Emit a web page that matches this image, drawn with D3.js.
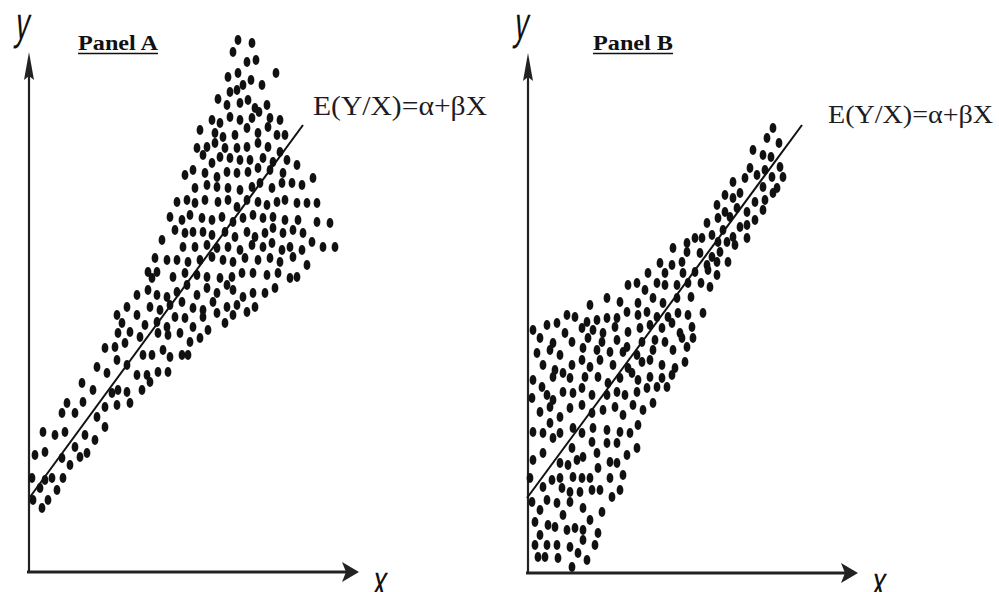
<!DOCTYPE html>
<html>
<head>
<meta charset="utf-8">
<title>Panels</title>
<script src="https://d3js.org/d3.v7.min.js"></script>
<style>
  body { margin: 0; background: #fff; }
  svg { display: block; }
  .dot { fill: #111; }
  .axis { stroke: #222; }
  .eq { font-family: "Liberation Serif", serif; fill: #1c1c24; }
  .title { font-family: "Liberation Serif", serif; font-weight: bold; fill: #111; }
  .var { font-family: "Liberation Sans Narrow", "Liberation Sans", sans-serif; fill: #111; }
</style>
</head>
<body>
<script>
// units: x = distance from y axis, y = height above x axis
const titles = ["Panel A", "Panel B"];
const equation = "E(Y/X)=\u03b1+\u03b2X";
const axisNames = ["y", "x"];

const lineA = [[1, 75], [274, 447]];
const lineB = [[-1, 75], [274, 448]];

const dotsA = [
  [209,532],[223,529],[204,520],[218,510],[227,512],[247,499],[199,495],[209,499],[214,487],[222,492],
  [208,482],[201,480],[233,487],[189,473],[198,467],[211,469],[219,472],[226,464],[238,467],[183,452],
  [191,449],[201,455],[211,452],[223,454],[230,460],[241,454],[251,452],[171,442],[186,439],[194,435],
  [206,437],[218,444],[229,439],[239,445],[248,437],[256,437],[168,424],[178,425],[186,429],[196,424],
  [208,424],[218,425],[229,429],[239,425],[251,420],[174,417],[183,409],[191,415],[201,414],[211,412],
  [221,412],[234,414],[244,410],[258,412],[268,407],[156,397],[164,402],[176,399],[188,395],[198,400],
  [208,399],[219,400],[229,404],[241,402],[254,399],[263,389],[273,387],[284,394],[166,384],[178,387],
  [188,385],[199,384],[211,382],[223,385],[231,389],[243,384],[253,389],[148,370],[158,372],[166,369],
  [176,372],[189,370],[199,372],[208,365],[218,372],[229,370],[238,367],[248,370],[256,372],[268,369],
  [278,369],[288,369],[141,355],[153,352],[161,357],[173,354],[183,352],[193,355],[204,350],[214,354],
  [224,357],[234,354],[244,355],[256,352],[269,352],[288,350],[301,349],[146,342],[156,339],[164,340],
  [174,340],[183,337],[196,340],[206,335],[218,340],[226,335],[236,339],[244,344],[254,339],[264,342],
  [274,339],[154,325],[166,325],[178,327],[188,324],[199,325],[211,322],[223,327],[234,325],[243,329],
  [253,322],[261,325],[273,322],[283,330],[294,325],[306,325],[148,312],[159,310],[171,312],[183,315],
  [194,312],[204,310],[216,314],[229,312],[241,314],[251,310],[264,315],[278,307],[144,295],[156,299],
  [168,297],[178,295],[191,294],[203,295],[213,299],[224,299],[238,297],[249,299],[261,294],[268,295],
  [133,332],[126,314],[138,312],[119,300],[128,300],[123,294],
  [108,277],[119,282],[128,277],[138,275],[148,280],[158,287],[168,277],[178,284],[188,279],[198,287],
  [204,282],[214,275],[224,279],[236,279],[246,284],
  [98,265],[88,257],[108,257],[121,265],[131,262],[141,267],[153,270],[164,264],[174,262],[184,270],
  [198,265],[208,267],[218,260],[226,265],[93,249],[101,240],[116,247],[128,250],[138,245],[146,255],
  [156,254],[164,245],[174,255],[188,259],[196,249],[204,257],[89,239],[111,235],[129,239],[139,237],
  [151,239],[161,230],[171,234],[179,242],[76,224],[86,225],[96,229],[114,217],[123,217],[134,222],
  [141,215],[153,217],[159,217],[68,205],[78,199],[88,212],[98,207],[108,197],[118,197],[129,200],
  [139,200],
  [53,189],[64,182],[83,179],[89,182],[98,180],[113,182],[121,190],[38,169],[54,170],[76,165],
  [88,167],[101,169],[33,159],[46,159],[68,155],[76,145],[14,140],[26,137],[36,140],[56,137],
  [66,132],[6,117],[16,120],[33,114],[46,125],[51,115],[58,119],[41,107],[3,94],[16,92],
  [23,94],[34,94],[4,72],[11,84],[19,72],[28,82],[13,64]
];

const dotsB = [
  [245,445],[239,435],[251,430],[225,423],[235,418],[243,416],[252,406],[222,405],[229,398],[237,403],
  [244,396],[255,396],[205,391],[217,395],[235,386],[249,385],[245,380],[197,378],[212,380],[205,375],
  [227,371],[237,373],[189,368],[197,361],[209,365],[219,361],[235,363],[190,355],[202,356],[227,353],
  [179,350],[212,346],[219,348],[184,338],[195,343],[205,336],[167,335],[174,335],[159,330],[190,331],
  [199,331],[207,328],[219,335],[145,325],[159,321],[172,320],[184,316],[192,321],[132,310],[144,308],
  [154,311],[179,308],[189,311],[200,311],[120,300],[137,300],[155,300],[167,301],[180,303],[189,298],
  [100,288],[109,290],[117,283],[129,290],[137,288],[149,288],[160,290],[173,290],[182,286],
  [62,268],[79,275],[92,271],[110,270],[125,275],[135,270],[149,275],[163,276],[175,260],
  [39,258],[47,256],[59,251],[69,253],[79,255],[89,255],[99,261],[110,258],[119,261],[129,256],
  [140,256],[150,260],[160,258],[5,243],[19,248],[29,250],[37,240],[54,245],[65,243],[75,240],
  [87,246],[100,241],[112,245],[122,248],[134,245],[144,250],[152,240],[164,246],[12,235],[25,230],
  [44,231],[60,235],[74,231],[89,233],[99,226],[114,231],[127,233],[137,231],[154,235],[165,235],
  [9,220],[22,223],[32,218],[55,225],[69,223],[82,221],[95,221],[109,218],[125,223],[145,223],
  [159,226],[15,208],[27,203],[44,208],[54,213],[62,206],[72,213],[85,208],[100,205],[114,211],
  [122,213],[134,208],[147,205],[157,211],[5,193],[25,196],[35,200],[42,195],[57,196],[70,196],
  [80,190],[92,195],[104,200],[110,193],[122,196],[134,195],[144,198],[4,175],[14,186],[19,178],
  [25,173],[35,181],[45,180],[54,185],[64,178],[79,178],[89,181],[97,178],[109,181],[119,185],
  [129,186],[139,186],[12,161],[22,166],[32,156],[42,165],[54,168],[64,160],[75,163],[87,166],
  [95,158],[105,168],[115,163],[125,170],[5,141],[15,140],[22,150],[32,140],[45,145],[54,140],
  [65,145],[79,143],[92,141],[102,140],[110,148],
  [25,135],[44,125],[64,131],[79,130],[89,130],[109,125],[5,113],[15,120],[32,110],[40,108],
  [49,113],[55,116],[69,120],[70,105],[82,111],[89,110],[99,118],[2,95],[15,86],[24,93],
  [32,95],[45,96],[54,95],[62,95],[82,95],[95,98],[19,73],[34,85],[42,81],[52,81],
  [64,83],[72,83],[84,76],[92,83],[4,71],[12,63],[29,70],[35,58],[42,71],[55,65],
  [74,61],[7,51],[20,48],[27,46],[39,43],[47,45],[55,43],[62,53],[70,40],[12,38],
  [7,28],[19,28],[29,28],[42,26],[55,33],[67,28],[50,20],[10,16],[17,16],[30,15],
  [59,13],[44,6]
];

const W = 999, H = 592;
const svg = d3.select("body").append("svg")
  .attr("width", W)
  .attr("height", H);

const panels = [
  { title: titles[0], dots: dotsA, line: lineA, ox: 29, oy: 572, titleX: 78, eqX: 313, eqY: 115, eqW: 174, eqSize: 27 },
  { title: titles[1], dots: dotsB, line: lineB, ox: 528, oy: 573, titleX: 593, eqX: 828, eqY: 123, eqW: 165, eqSize: 25 }
];

panels.forEach(function(p) {
  const x = d3.scaleLinear().domain([0, 330]).range([p.ox, p.ox + 330]);
  const y = d3.scaleLinear().domain([0, 520]).range([p.oy, p.oy - 520]);
  const g = svg.append("g");

  // axes with arrows
  const x0 = x(0), y0 = y(0), xEnd = x(330), yEnd = y(520);
  g.append("line").attr("class", "axis")
    .attr("x1", x0).attr("y1", y0 + 1).attr("x2", x0).attr("y2", yEnd + 20)
    .attr("stroke-width", 2.2);
  g.append("path")
    .attr("d", `M${x0},${yEnd} L${x0 - 5},${yEnd + 28} L${x0},${yEnd + 24} L${x0 + 5},${yEnd + 28} Z`)
    .attr("fill", "#222");
  g.append("line").attr("class", "axis")
    .attr("x1", x0 - 2).attr("y1", y0).attr("x2", xEnd - 10).attr("y2", y0)
    .attr("stroke-width", 3);
  g.append("path")
    .attr("d", `M${xEnd},${y0} L${xEnd - 17},${y0 - 10} L${xEnd - 13},${y0} L${xEnd - 17},${y0 + 10} Z`)
    .attr("fill", "#222");

  // axis names (narrow, leaning)
  g.append("text").attr("class", "var")
    .attr("transform", `translate(${x0 - 15},39) skewX(-9) scale(0.6,1)`)
    .attr("font-size", 46)
    .text(axisNames[0]);
  g.append("text").attr("class", "var")
    .attr("transform", `translate(${xEnd + 12},${y0 + 25}) skewX(-9) scale(0.6,1)`)
    .attr("font-size", 46)
    .text(axisNames[1]);

  // title
  g.append("text").attr("class", "title")
    .attr("x", p.titleX).attr("y", 50)
    .attr("font-size", 20)
    .attr("textLength", 80).attr("lengthAdjust", "spacingAndGlyphs")
    .text(p.title);
  g.append("line")
    .attr("x1", p.titleX).attr("x2", p.titleX + 80)
    .attr("y1", 53.5).attr("y2", 53.5)
    .attr("stroke", "#111").attr("stroke-width", 1.3);

  // dots
  g.append("g").selectAll("ellipse")
    .data(p.dots)
    .join("ellipse")
    .attr("class", "dot")
    .attr("cx", d => x(d[0]))
    .attr("cy", d => y(d[1]))
    .attr("rx", 3.4)
    .attr("ry", 4.9);

  // regression line
  g.append("path")
    .datum(p.line)
    .attr("d", d3.line().x(d => x(d[0])).y(d => y(d[1])))
    .attr("stroke", "#111")
    .attr("stroke-width", 2)
    .attr("fill", "none");

  // equation
  g.append("text").attr("class", "eq")
    .attr("x", p.eqX).attr("y", p.eqY)
    .attr("font-size", p.eqSize)
    .attr("textLength", p.eqW).attr("lengthAdjust", "spacingAndGlyphs")
    .text(equation);
});
</script>
</body>
</html>
